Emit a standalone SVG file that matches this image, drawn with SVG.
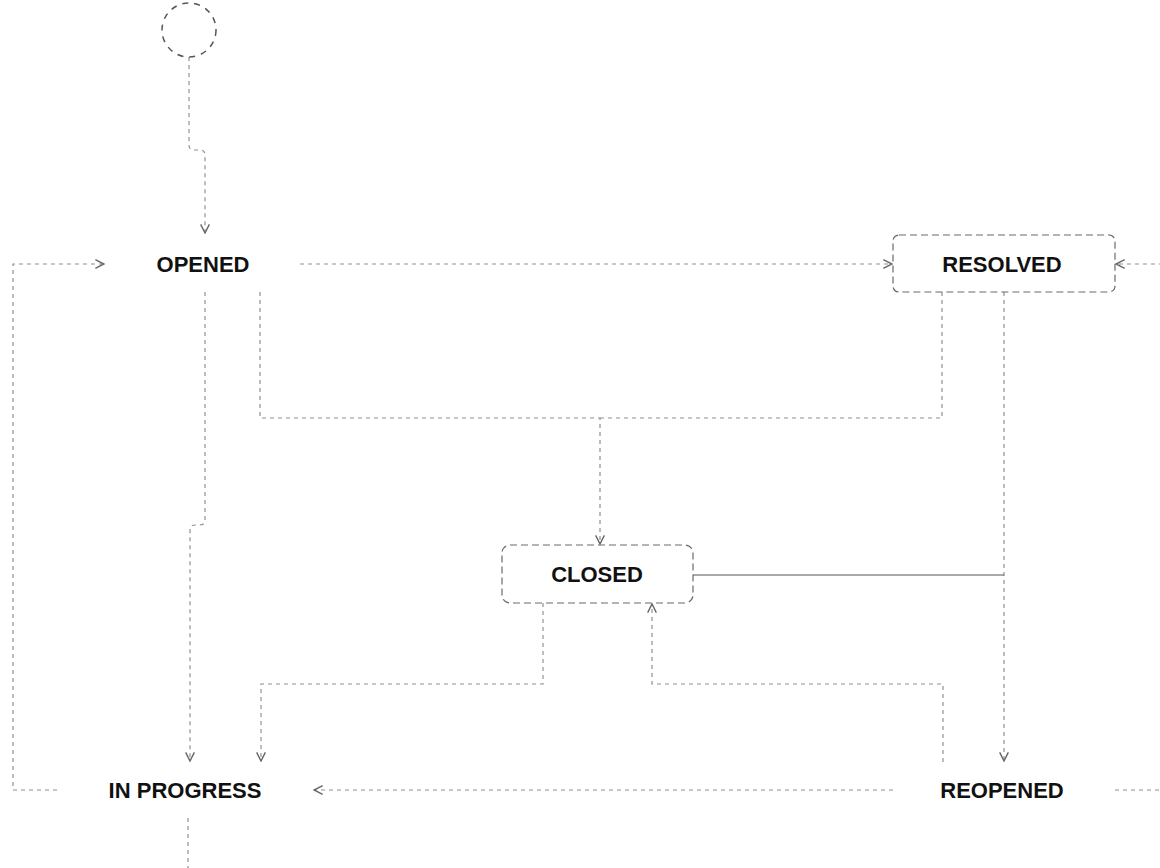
<svg xmlns="http://www.w3.org/2000/svg" width="1160" height="868" viewBox="0 0 1160 868">
  <style>
    .bg { fill: #ffffff; }
    .node rect { fill: #ffffff; }
    .node rect.bordered { stroke: #6a6a6a; stroke-width: 1.2; stroke-dasharray: 7 4; }
    .node rect.plain { stroke: none; }
    .label { font-family: "Liberation Sans", Arial, sans-serif; font-size: 22px; font-weight: bold; fill: #111111; text-anchor: middle; dominant-baseline: central; }
    .edge { fill: none; stroke: #909090; stroke-width: 1.2; stroke-dasharray: 4 4; }
    .edge.solid { stroke: #555555; stroke-dasharray: none; }
    .start { fill: none; stroke: #555555; stroke-width: 1.5; stroke-dasharray: 6 6; }
  </style>
  <defs>
    <marker id="arrow" viewBox="0 0 10 10" refX="9" refY="5" markerWidth="9" markerHeight="9" orient="auto-start-reverse">
      <path d="M1,1 L9,5 L1,9" fill="none" stroke="#666666" stroke-width="1.3"/>
    </marker>
  </defs>
  <rect class="bg" x="0" y="0" width="1160" height="868"/>

  <g id="connectors">
    <!-- start -> OPENED -->
    <path class="edge" d="M189,57 V145 Q189,150 194,150 H200 Q205,150 205,155 V233" marker-end="url(#arrow)"/>
    <!-- OPENED -> RESOLVED -->
    <path class="edge" d="M300,264 H892" marker-end="url(#arrow)"/>
    <!-- IN PROGRESS -> OPENED (left loop) -->
    <path class="edge" d="M57,790 H13 V264 H104" marker-end="url(#arrow)"/>
    <!-- OPENED -> CLOSED -->
    <path class="edge" d="M260,292 V418 H600 V544" marker-end="url(#arrow)"/>
    <!-- RESOLVED -> CLOSED -->
    <path class="edge" d="M942,292 V418 H600"/>
    <!-- OPENED -> IN PROGRESS -->
    <path class="edge" d="M205,292 V520 Q205,525 200,525 H195 Q190,525 190,530 V761" marker-end="url(#arrow)"/>
    <!-- RESOLVED -> REOPENED -->
    <path class="edge" d="M1004,292 V761" marker-end="url(#arrow)"/>
    <!-- CLOSED -> REOPENED -->
    <path class="edge solid" d="M693,575 H1004"/>
    <!-- CLOSED -> IN PROGRESS -->
    <path class="edge" d="M543,603 V684 H261 V761" marker-end="url(#arrow)"/>
    <!-- REOPENED -> CLOSED -->
    <path class="edge" d="M943,762 V684 H652 V604" marker-end="url(#arrow)"/>
    <!-- REOPENED -> IN PROGRESS -->
    <path class="edge" d="M893,790 H314" marker-end="url(#arrow)"/>
    <!-- REOPENED -> RESOLVED (right loop) -->
    <path class="edge" d="M1115,790 H1172 V264 H1116" marker-end="url(#arrow)"/>
    <!-- IN PROGRESS downward -->
    <path class="edge" d="M188,818 V868"/>
  </g>

  <g id="start" class="node">
    <circle class="start" cx="189" cy="30" r="27"/>
  </g>

  <g id="opened" class="node">
    <rect class="plain" x="105" y="235" width="195" height="57" rx="6"/>
    <text class="label" x="203" y="264">OPENED</text>
  </g>

  <g id="resolved" class="node">
    <rect class="bordered" x="893" y="235" width="222" height="57" rx="6"/>
    <text class="label" x="1002" y="264">RESOLVED</text>
  </g>

  <g id="closed" class="node">
    <rect class="bordered" x="502" y="545" width="191" height="58" rx="8"/>
    <text class="label" x="597" y="574">CLOSED</text>
  </g>

  <g id="in-progress" class="node">
    <rect class="plain" x="57" y="762" width="256" height="56" rx="6"/>
    <text class="label" x="185" y="790">IN PROGRESS</text>
  </g>

  <g id="reopened" class="node">
    <rect class="plain" x="893" y="762" width="222" height="56" rx="6"/>
    <text class="label" x="1002" y="790">REOPENED</text>
  </g>
</svg>
